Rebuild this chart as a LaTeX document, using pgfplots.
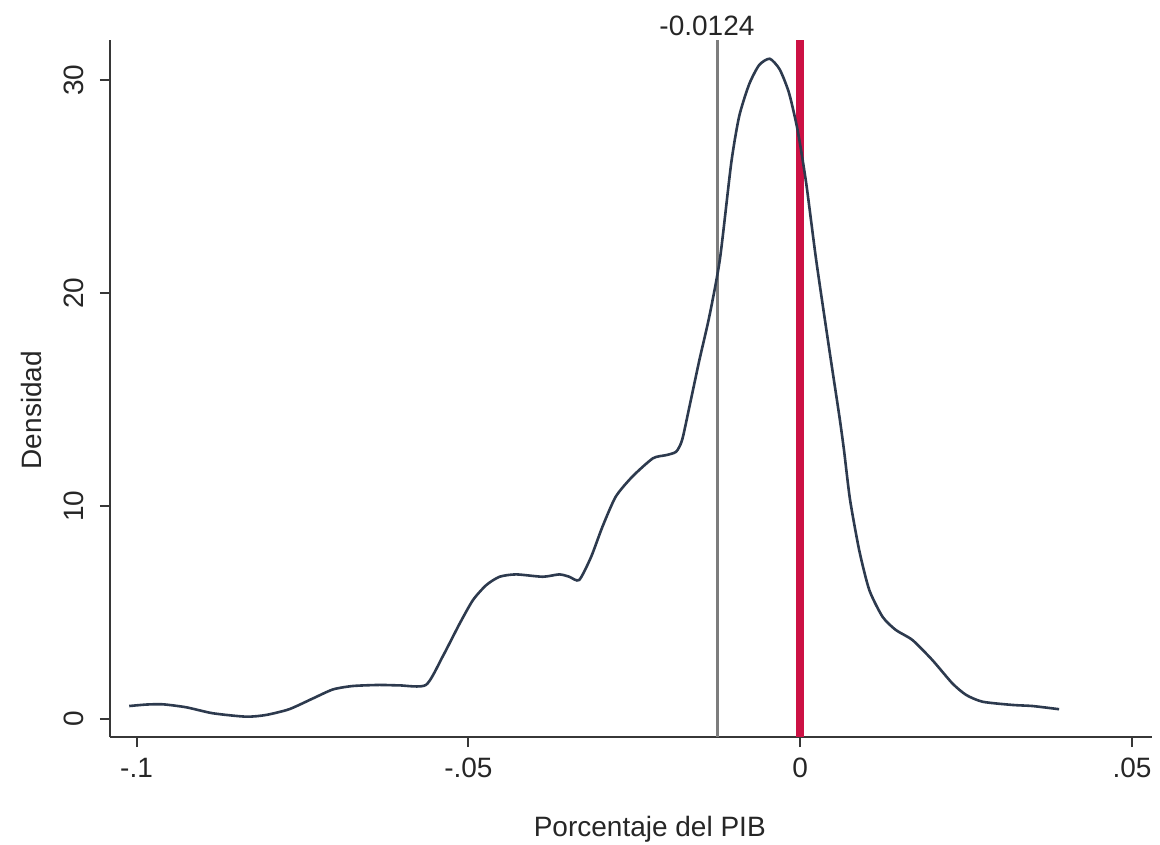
\documentclass[border=0pt]{standalone}
\usepackage{fontspec}
\setmainfont{Liberation Sans}
\usepackage{pgfplots}
\pgfplotsset{compat=1.18}

\definecolor{curvecol}{RGB}{45,58,78}
\definecolor{meancol}{RGB}{125,125,125}
\definecolor{zerocol}{RGB}{204,17,68}
\definecolor{axiscol}{RGB}{55,55,55}

\pgfplotstableread{
x y
-0.1011 0.61
-0.0985 0.68
-0.0960 0.69
-0.0925 0.55
-0.0885 0.27
-0.0835 0.11
-0.0805 0.19
-0.0770 0.46
-0.0734 0.97
-0.0704 1.39
-0.0674 1.55
-0.0634 1.60
-0.0604 1.58
-0.0564 1.60
-0.0539 2.92
-0.0513 4.49
-0.0493 5.59
-0.0473 6.29
-0.0453 6.68
-0.0428 6.79
-0.0388 6.68
-0.0363 6.79
-0.0348 6.68
-0.0333 6.53
-0.0315 7.62
-0.0298 9.03
-0.0278 10.44
-0.0253 11.38
-0.0222 12.24
-0.0202 12.39
-0.0187 12.55
-0.0178 13.10
-0.0167 14.66
-0.0152 16.85
-0.0137 18.90
-0.0121 21.60
-0.0104 26.10
-0.0092 28.30
-0.0077 29.80
-0.0062 30.70
-0.0046 31.00
-0.0031 30.50
-0.0017 29.40
-0.0004 27.65
0.0009 25.15
0.0024 21.55
0.0044 17.30
0.0059 14.20
0.0066 12.60
0.0075 10.30
0.0089 7.90
0.0104 6.06
0.0124 4.80
0.0144 4.18
0.0169 3.71
0.0199 2.77
0.0229 1.68
0.0250 1.13
0.0275 0.81
0.0320 0.66
0.0350 0.61
0.0390 0.46
}\density

\begin{document}
\begin{tikzpicture}
\begin{axis}[
  name=ax,
  scale only axis,
  width=521pt, height=348.5pt,
  xmin=-0.104, xmax=0.053,
  ymin=-0.845, ymax=31.88,
  axis x line*=bottom,
  axis y line*=left,
  axis line style={-, line width=1pt, color=axiscol},
  tick align=outside,
  major tick length=5pt,
  tick style={line width=1pt, color=axiscol},
  xtick={-0.1,-0.05,0,0.05},
  xticklabels={-.1,-.05,0,.05},
  ytick={0,10,20,30},
  yticklabels={0,10,20,30},
  ticklabel style={font=\fontsize{14}{16}\selectfont, text=black!85},
  xticklabel style={yshift=-2pt},
  yticklabel style={rotate=90, anchor=south, yshift=4.5pt},
  xlabel={Porcentaje del PIB},
  ylabel={Densidad},
  label style={font=\fontsize{14}{16}\selectfont, text=black!85},
  xlabel style={at={(axis description cs:0.518,-0.133)}, anchor=center},
  ylabel style={at={(axis description cs:-0.075,0.469)}, anchor=center, rotate=0},
  clip=false,
]
\addplot[meancol, line width=1.5pt] coordinates {(-0.0124,-0.845) (-0.0124,31.88)};
\addplot[zerocol, line width=4pt] coordinates {(0,-0.845) (0,31.88)};
\addplot[curvecol, line width=1.3pt, smooth, tension=0.4] table {\density};
\node[anchor=base, font=\fontsize{14}{16}\selectfont, text=black!85, xshift=-5.5pt, yshift=2.5pt]
  at (axis cs:-0.0124,31.88) {-0.0124};
\end{axis}
\pgfresetboundingbox
\path[use as bounding box] ([xshift=-55pt,yshift=-53.5pt]ax.south west) rectangle ([xshift=4pt,yshift=20pt]ax.north east);
\end{tikzpicture}
\end{document}
